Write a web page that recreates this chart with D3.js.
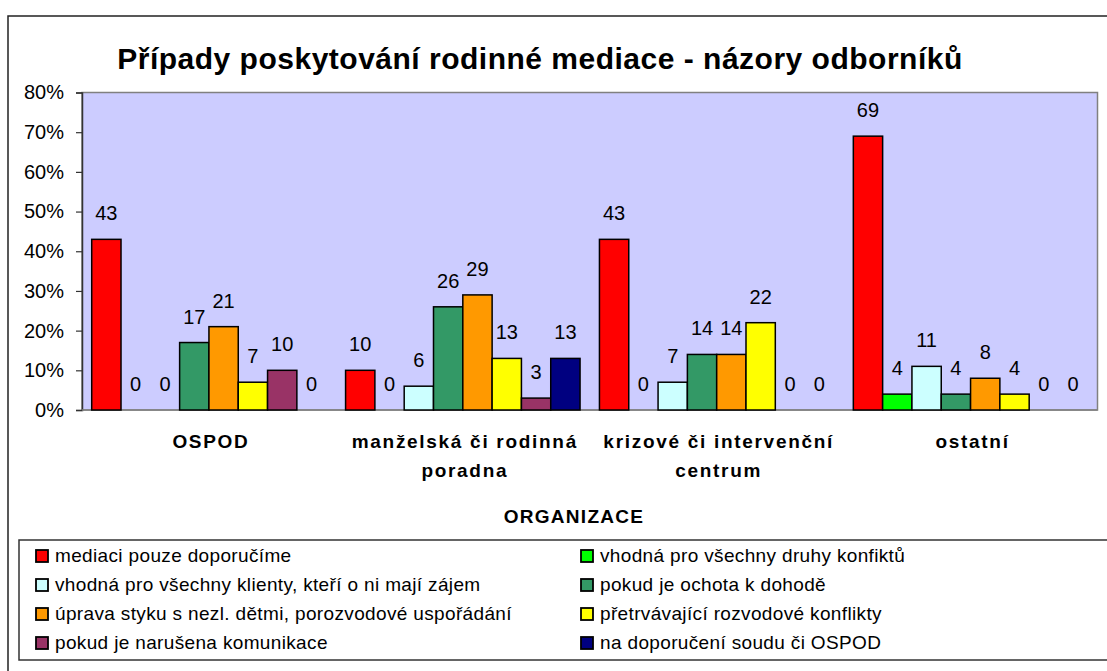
<!DOCTYPE html>
<html>
<head>
<meta charset="utf-8">
<script src="https://cdn.jsdelivr.net/npm/d3@7"></script>
<style>
  body { margin: 0; background: #fff; }
  text { font-family: "Liberation Sans", Arial, sans-serif; fill: #000; }
</style>
</head>
<body>
<svg id="chart" width="1107" height="671"></svg>
<script>
// kategorie (organizace)
var categories = ["OSPOD", "manželská či rodinná\nporadna", "krizové či intervenční\ncentrum", "ostatní"];

// názvy řad
var seriesNames = [
  "mediaci pouze doporučíme",
  "vhodná pro všechny druhy konfiktů",
  "vhodná pro všechny klienty, kteří o ni mají zájem",
  "pokud je ochota k dohodě",
  "úprava styku s nezl. dětmi, porozvodové uspořádání",
  "přetrvávající rozvodové konflikty",
  "pokud je narušena komunikace",
  "na doporučení soudu či OSPOD"
];
var seriesColors = ["#FF0000", "#00FF00", "#CCFFFF", "#339966", "#FF9900", "#FFFF00", "#993366", "#000080"];

// hodnoty (%) pro jednotlivé řady
var mediaciPouze   = [43, 10, 43, 69];
var vsechnyDruhy   = [0, 0, 0, 4];
var vsechnyKlienty = [0, 6, 7, 11];
var ochotaDohoda   = [17, 26, 14, 4];
var upravaStyku    = [21, 29, 14, 8];
var pretrvavajici  = [7, 13, 22, 4];
var narusenaKom    = [10, 3, 0, 0];
var doporuceniSoud = [0, 13, 0, 0];
var seriesValues = [mediaciPouze, vsechnyDruhy, vsechnyKlienty, ochotaDohoda, upravaStyku, pretrvavajici, narusenaKom, doporuceniSoud];

var yTicks = [0, 10, 20, 30, 40, 50, 60, 70, 80];

var svg = d3.select("#chart");

// vnější rámeček grafu
svg.append("rect")
  .attr("x", 8).attr("y", 16)
  .attr("width", 1120).attr("height", 680)
  .attr("fill", "#fff")
  .attr("stroke", "#222").attr("stroke-width", 1.5);

var plot = { left: 82, top: 92.5, right: 1097.5, bottom: 410 };

var x0 = d3.scaleBand()
  .domain(categories)
  .range([plot.left, plot.right]);

var gap = 9.7;
var x1 = d3.scaleBand()
  .domain(d3.range(seriesNames.length))
  .range([gap, x0.bandwidth() - gap]);

var y = d3.scaleLinear()
  .domain([0, 80])
  .range([plot.bottom, plot.top]);

// pozadí plochy
svg.append("rect")
  .attr("x", plot.left).attr("y", plot.top)
  .attr("width", plot.right - plot.left).attr("height", plot.bottom - plot.top)
  .attr("fill", "#CCCCFF")
  .attr("stroke", "#808080").attr("stroke-width", 1.5);

// titulek
svg.append("text")
  .attr("x", 540).attr("y", 69)
  .attr("text-anchor", "middle")
  .style("font-size", "30px")
  .style("font-weight", "bold")
  .style("letter-spacing", "0.5px")
  .text("Případy poskytování rodinné mediace - názory odborníků");

// osa y
var yAxis = d3.axisLeft(y)
  .tickValues(yTicks)
  .tickSize(6)
  .tickPadding(12)
  .tickFormat(function (d) { return d + "%"; });

var gy = svg.append("g")
  .attr("transform", "translate(" + plot.left + ",0)")
  .call(yAxis);
gy.select(".domain").attr("stroke", "#333").attr("stroke-width", 1.5);
gy.selectAll(".tick line").attr("stroke", "#333").attr("stroke-width", 1.2);
gy.selectAll(".tick text")
  .style("font-size", "20px")
  .style("font-family", "'Liberation Sans', Arial, sans-serif");

// spodní linka osy x
svg.append("line")
  .attr("x1", plot.left).attr("x2", plot.right)
  .attr("y1", plot.bottom).attr("y2", plot.bottom)
  .attr("stroke", "#808080").attr("stroke-width", 1.5);

// sloupce
var groups = svg.selectAll("g.grp")
  .data(categories)
  .enter().append("g")
  .attr("class", "grp")
  .attr("transform", function (d) { return "translate(" + x0(d) + ",0)"; });

groups.each(function (cat, ci) {
  var g = d3.select(this);
  var rows = seriesValues.map(function (vals, si) { return { s: si, v: vals[ci] }; });

  g.selectAll("rect")
    .data(rows.filter(function (r) { return r.v > 0; }))
    .enter().append("rect")
    .attr("x", function (r) { return x1(r.s); })
    .attr("y", function (r) { return y(r.v); })
    .attr("width", x1.bandwidth())
    .attr("height", function (r) { return y(0) - y(r.v); })
    .attr("fill", function (r) { return seriesColors[r.s]; })
    .attr("stroke", "#000").attr("stroke-width", 1.5);

  g.selectAll("text.val")
    .data(rows)
    .enter().append("text")
    .attr("class", "val")
    .attr("x", function (r) { return x1(r.s) + x1.bandwidth() / 2; })
    .attr("y", function (r) { return y(r.v) - 19; })
    .attr("text-anchor", "middle")
    .style("font-size", "20px")
    .text(function (r) { return r.v; });
});

// popisky kategorií
categories.forEach(function (cat) {
  var lines = cat.split("\n");
  var t = svg.append("text")
    .attr("text-anchor", "middle")
    .style("font-size", "19px")
    .style("font-weight", "bold")
    .style("letter-spacing", "1.7px");
  lines.forEach(function (ln, i) {
    t.append("tspan")
      .attr("x", x0(cat) + x0.bandwidth() / 2 + 2)
      .attr("y", 448 + i * 29)
      .text(ln);
  });
});

// název osy x
svg.append("text")
  .attr("x", 574).attr("y", 523)
  .attr("text-anchor", "middle")
  .style("font-size", "19px")
  .style("font-weight", "bold")
  .style("letter-spacing", "1.3px")
  .text("ORGANIZACE");

// legenda
svg.append("rect")
  .attr("x", 19).attr("y", 540)
  .attr("width", 1120).attr("height", 120)
  .attr("fill", "#fff")
  .attr("stroke", "#333").attr("stroke-width", 1.5);

var legend = svg.selectAll("g.leg")
  .data(seriesNames)
  .enter().append("g")
  .attr("class", "leg")
  .attr("transform", function (d, i) {
    var col = i % 2, row = Math.floor(i / 2);
    return "translate(" + (col === 0 ? 36 : 581) + "," + (562 + row * 29) + ")";
  });

legend.append("rect")
  .attr("x", 0).attr("y", -12)
  .attr("width", 12).attr("height", 12)
  .attr("fill", function (d, i) { return seriesColors[i]; })
  .attr("stroke", "#000").attr("stroke-width", 1.8);

legend.append("text")
  .attr("x", 19).attr("y", 0)
  .style("font-size", "19px")
  .style("letter-spacing", "0.35px")
  .text(function (d) { return d; });
</script>
</body>
</html>
